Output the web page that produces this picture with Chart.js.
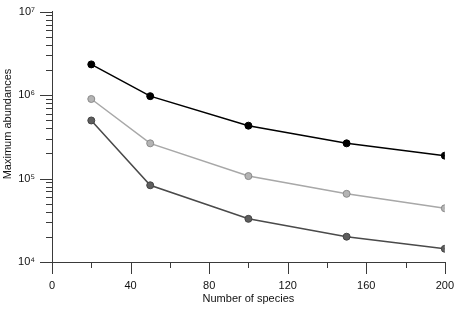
<!DOCTYPE html>
<html>
<head>
<meta charset="utf-8">
<script src="https://cdn.jsdelivr.net/npm/chart.js@4/dist/chart.umd.min.js"></script>
<style>
  html, body { margin: 0; padding: 0; background: #fff; }
  #wrap { width: 459px; height: 310px; }
</style>
</head>
<body>
<div id="wrap"><canvas id="grafico"></canvas></div>
<script>
// dados
const especies = [20, 50, 100, 150, 200];
const serieA = [2330000, 970000, 430000, 264000, 188000];
const serieB = [897000, 264000, 107000, 65600, 44000];
const serieC = [496000, 83000, 32900, 20100, 14400];
const yTicksMaiores = [1e4, 1e5, 1e6, 1e7];
const yRotulos = ["10\u2074", "10\u2075", "10\u2076", "10\u2077"];
const xTicks = [0, 40, 80, 120, 160, 200];

const corEixo = "#3a3a3a";
const fonte = { family: "'Liberation Sans', Arial, sans-serif", size: 11 };

// marcas dos eixos (maiores e menores)
const marcasPlugin = {
  id: "marcas",
  afterDraw(chart) {
    const ctx = chart.ctx;
    const x = chart.scales.x, y = chart.scales.y;
    ctx.save();
    ctx.strokeStyle = corEixo;
    ctx.lineWidth = 1;
    ctx.beginPath();
    for (let d = 4; d <= 7; d++) {
      for (let m = 1; m <= 9; m++) {
        const v = m * Math.pow(10, d);
        if (v > 1e7) break;
        const py = Math.round(y.getPixelForValue(v)) + 0.5;
        const len = m === 1 ? 12 : 6;
        ctx.moveTo(x.left, py);
        ctx.lineTo(x.left - len, py);
      }
    }
    for (let v = 0; v <= 200; v += 20) {
      const px = Math.round(x.getPixelForValue(v)) + 0.5;
      const len = v % 40 === 0 ? 12 : 6;
      ctx.moveTo(px, y.bottom);
      ctx.lineTo(px, y.bottom + len);
    }
    ctx.stroke();
    // titulo do eixo y
    ctx.fillStyle = "#111";
    ctx.font = "11px " + fonte.family;
    ctx.textAlign = "center";
    ctx.textBaseline = "middle";
    ctx.translate(7.5, 124);
    ctx.rotate(-Math.PI / 2);
    ctx.fillText("Maximum abundances", 0, 0);
    ctx.restore();
  }
};

function serie(dados, linha, preenchimento, borda) {
  return {
    data: especies.map((e, i) => ({ x: e, y: dados[i] })),
    borderColor: linha,
    borderWidth: 1.5,
    pointRadius: 3.5,
    pointHoverRadius: 3.5,
    pointBackgroundColor: preenchimento,
    pointBorderColor: borda,
    pointBorderWidth: 1,
    tension: 0
  };
}

new Chart(document.getElementById("grafico"), {
  type: "line",
  data: {
    datasets: [
      serie(serieC, "#4a4a4a", "#5e5e5e", "#444444"),
      serie(serieB, "#a8a8a8", "#b4b4b4", "#8a8a8a"),
      serie(serieA, "#000000", "#000000", "#000000")
    ]
  },
  plugins: [marcasPlugin],
  options: {
    responsive: true,
    maintainAspectRatio: false,
    animation: false,
    layout: { padding: { left: 0, right: 12, top: 9, bottom: 0 } },
    plugins: { legend: { display: false }, tooltip: { enabled: false } },
    scales: {
      x: {
        type: "linear",
        min: 0,
        max: 200,
        afterBuildTicks: (s) => { s.ticks = xTicks.map(v => ({ value: v })); },
        afterFit: (s) => { s.height = 48; },
        grid: { display: false, drawTicks: true, tickLength: 12 },
        border: { display: true, color: corEixo, width: 1 },
        ticks: { color: "#111", font: fonte, padding: 5, maxRotation: 0 },
        title: { display: true, text: "Number of species", color: "#111", font: fonte, padding: { top: 0, bottom: 4 } }
      },
      y: {
        type: "logarithmic",
        min: 1e4,
        max: 1e7,
        afterBuildTicks: (s) => { s.ticks = yTicksMaiores.map(v => ({ value: v })); },
        afterFit: (s) => { s.width = 52; },
        grid: { display: false, drawTicks: true, tickLength: 12 },
        border: { display: true, color: corEixo, width: 1 },
        ticks: {
          color: "#111",
          font: fonte,
          padding: 5,
          callback: (v) => yRotulos[yTicksMaiores.indexOf(v)] || ""
        }
      }
    }
  }
});
</script>
</body>
</html>
